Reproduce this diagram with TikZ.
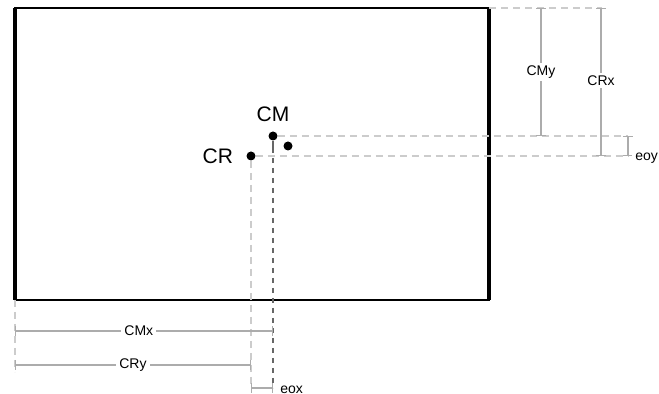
\documentclass[tikz,border=0pt]{standalone}
\usepackage{fontspec}
\setmainfont{Liberation Sans}
\usetikzlibrary{arrows.meta}

\begin{document}
\begin{tikzpicture}[x=0.5pt, y=-0.5pt,
        dot/.style={fill=black, circle, inner sep=0pt, minimum size=4.5pt},
        big/.style={font=\fontsize{10.5}{11}\selectfont},
        sm/.style={font=\fontsize{7}{8}\selectfont, fill=white, inner sep=1.5pt},
        dim/.style={draw=gray!65, line width=0.55pt, {Bar[width=5pt]}-{Bar[width=5pt]}},
        gd/.style={draw=gray!40, line width=0.6pt, dash pattern=on 3.5pt off 2.5pt},
        gdk/.style={draw=gray!80!black, line width=0.6pt, dash pattern=on 2.5pt off 2.5pt},
        bx/.style={line width=1.4pt}
      ]
      \useasboundingbox (0,0) rectangle (659,394);
      % body outline
      \draw[bx] (15,8) rectangle (489,300);
      \draw[line width=1.8pt] (15,8) -- (15,300) (489,8) -- (489,300);
      % centres
      \node[dot] (cm) at (273,136) {};
      \node[dot] (cr) at (251,156) {};
      \node[dot] (cg) at (288,146) {};
      \node[big, above=1pt] (cmlbl) at (cm.north) {CM};
      \node[big, left=3pt] (crlbl) at (cr.west) {CR};
      % helper points
      \coordinate (cmv) at (273,148);
      \coordinate (cmb) at (273,388);
      \coordinate (crb) at (251,388);
      \coordinate (cme) at (628,136);
      \coordinate (cre) at (628,156);
      \coordinate (tl) at (489,8);
      \coordinate (tr) at (602,8);
      \coordinate (bl) at (15,300);
      \coordinate (bb) at (15,372);
      % guide lines
      \draw[line width=0.6pt, gray!80!black] (cm) -- (cmv);
      \draw[gdk] (cmv) -- (cmb);
      \draw[gd] (cr) -- (crb);
      \draw[gd] (cm) -- (cme);
      \draw[gd] (cr) -- (cre);
      \draw[gd] (tl) -- (tr);
      \draw[gd] (bl) -- (bb);
      % dimensions
      \draw[dim] (541,8) -- node[sm] (cmy) {CMy} (541,136);
      \draw[dim] (601,8) -- node[sm, pos=0.49] (crx) {CRx} (601,156);
      \draw[dim] (cme) -- (cre);
      \node[sm, anchor=west] (eoy) at (632,158) {eoy};
      \draw[dim] (15,331) -- node[sm, pos=0.48] (cmx) {CMx} (273,331);
      \draw[dim] (15,365) -- node[sm, pos=0.5] (cry) {CRy} (251,365);
      \draw[dim] (crb) -- (cmb);
      \node[sm, anchor=west] (eox) at (277,390) {eox};
    \end{tikzpicture}
\end{document}
